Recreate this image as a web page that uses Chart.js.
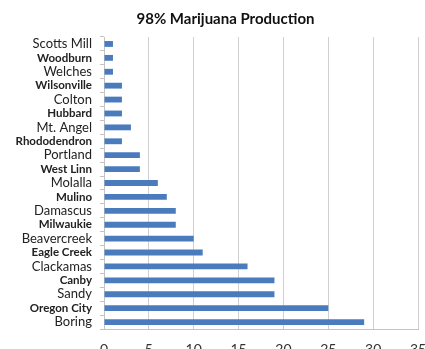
<!DOCTYPE html>
<html>
<head>
<meta charset="utf-8">
<script src="https://cdn.jsdelivr.net/npm/chart.js@4/dist/chart.umd.min.js"></script>
<style>
  body { margin: 0; overflow: hidden; background: #fff; }
  #wrap { position: absolute; left: 0; top: 0; width: 425px; height: 362px; }
</style>
</head>
<body>
<div id="wrap"><canvas id="chart"></canvas></div>
<script>
const towns = ['Scotts Mill', 'Woodburn', 'Welches', 'Wilsonville', 'Colton', 'Hubbard', 'Mt. Angel',
    'Rhododendron', 'Portland', 'West Linn', 'Molalla', 'Mulino', 'Damascus', 'Milwaukie',
    'Beavercreek', 'Eagle Creek', 'Clackamas', 'Canby', 'Sandy', 'Oregon City', 'Boring'];
const production = [1, 1, 1, 2, 2, 2, 3, 2, 4, 4, 6, 7, 8, 8, 10, 11, 16, 19, 19, 25, 29];
const xTicks = [0, 5, 10, 15, 20, 25, 30, 35];

const FONT = 'Lato, "Open Sans", sans-serif';

// the original title sits a little right of the canvas centre
const shiftTitle = {
    id: 'shiftTitle',
    afterLayout(chart) {
        if (chart.titleBlock) chart.titleBlock.left += 26;
    }
};

new Chart(document.getElementById('chart').getContext('2d'), {
    type: 'bar',
    data: {
        labels: towns,
        datasets: [{
            label: '98% Marijuana Production',
            data: production,
            backgroundColor: '#4a7bbd',
            barPercentage: 0.42,
            categoryPercentage: 1
        }]
    },
    options: {
        indexAxis: 'y',
        responsive: true,
        maintainAspectRatio: false,
        animation: false,
        layout: { padding: 0 },
        scales: {
            x: {
                min: xTicks[0],
                max: xTicks[xTicks.length - 1],
                afterBuildTicks: (axis) => { axis.ticks = xTicks.map(v => ({ value: v })); },
                afterFit: (axis) => {
                    axis.height = 33;
                    axis.paddingLeft = 0;
                    axis.paddingRight = 7;
                },
                ticks: { color: '#333', padding: 12, font: { family: FONT, size: 14 } },
                grid: { color: '#d0d0d0', drawTicks: false },
                border: { color: '#c4c4c4' }
            },
            y: {
                afterFit: (axis) => { axis.width = 104; },
                ticks: {
                    color: '#222',
                    padding: 8,
                    autoSkip: false,
                    font: (ctx) => ctx.index % 2 === 1
                        ? { family: FONT, size: 11.5, weight: 'bold' }
                        : { family: FONT, size: 13 }
                },
                grid: { drawOnChartArea: false, tickLength: 4, color: '#c4c4c4' },
                border: { color: '#c4c4c4' }
            }
        },
        plugins: {
            legend: { display: false },
            tooltip: { enabled: false },
            title: {
                display: true,
                text: '98% Marijuana Production',
                color: '#111',
                font: { family: FONT, size: 15, weight: 'bold', lineHeight: 1.2 },
                padding: { top: 10, bottom: 9 }
            }
        }
    },
    plugins: [shiftTitle]
});
</script>
</body>
</html>
